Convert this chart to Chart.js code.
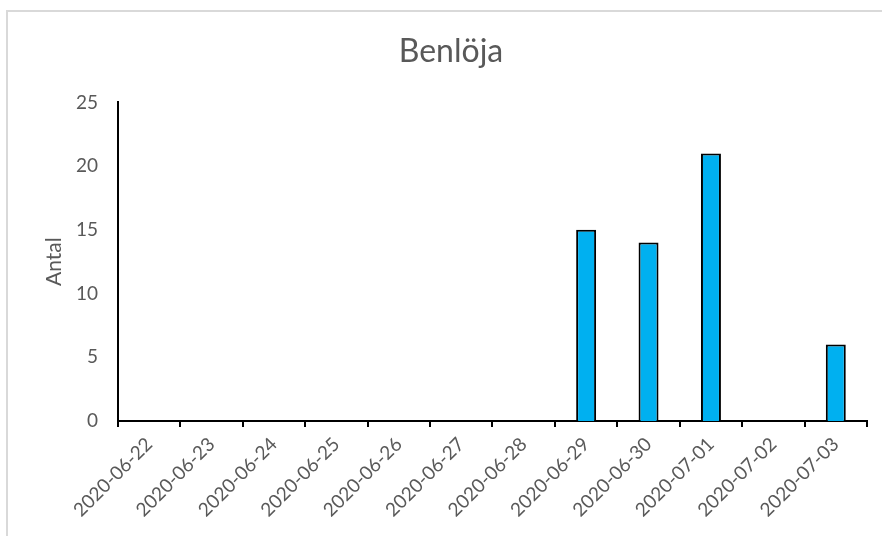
<!DOCTYPE html>
<html>
<head>
<meta charset="utf-8">
<script src="https://cdn.jsdelivr.net/npm/chart.js@4"></script>
<style>
  html, body { margin: 0; padding: 0; background: #fff; overflow: hidden; }
  #frame { position: absolute; left: 6px; top: 10px; width: 900px; height: 600px;
           border-left: 2px solid #d9d9d9; border-top: 2px solid #d9d9d9; }
  #wrap { position: absolute; left: 0; top: 0; width: 902px; height: 536px; }
</style>
</head>
<body>
<div id="frame"></div>
<div id="wrap"><canvas id="chart"></canvas></div>
<script>
const dates = ['2020-06-22', '2020-06-23', '2020-06-24', '2020-06-25', '2020-06-26', '2020-06-27',
  '2020-06-28', '2020-06-29', '2020-06-30', '2020-07-01', '2020-07-02', '2020-07-03'];
const antal = [0, 0, 0, 0, 0, 0, 0, 15, 14, 21, 0, 6];
const yMin = 0;
const yMax = 25;
const yStep = 5;

const grey = '#595959';
const font = 'Lato, "Open Sans", sans-serif';

new Chart(document.getElementById('chart'), {
  type: 'bar',
  data: {
    labels: dates,
    datasets: [{
      label: 'Antal',
      data: antal,
      backgroundColor: '#00b0f0',
      borderColor: '#000',
      borderWidth: 2,
      categoryPercentage: 1,
      barPercentage: 0.32
    }]
  },
  options: {
    responsive: true,
    maintainAspectRatio: false,
    animation: false,
    layout: { padding: 0 },
    plugins: {
      legend: { display: false },
      tooltip: { enabled: false },
      title: {
        display: true,
        text: 'Benlöja',
        color: grey,
        font: { family: font, size: 32, weight: 'normal' },
        padding: { top: 32, bottom: 32 }
      }
    },
    scales: {
      x: {
        offset: true,
        grid: {
          display: true,
          offset: true,
          drawOnChartArea: false,
          drawTicks: true,
          tickLength: 6,
          color: '#000',
          lineWidth: 2
        },
        border: { display: true, color: '#000', width: 2 },
        ticks: {
          color: grey,
          font: { family: font, size: 19 },
          minRotation: 45,
          maxRotation: 45,
          autoSkip: false,
          padding: 6
        },
        afterFit: s => { s.height = 115; }
      },
      y: {
        min: yMin,
        max: yMax,
        grid: { display: false, drawTicks: false },
        border: { display: true, color: '#000', width: 2 },
        ticks: {
          stepSize: yStep,
          color: grey,
          font: { family: font, size: 19 },
          padding: 20
        },
        title: {
          display: true,
          text: 'Antal',
          color: grey,
          font: { family: font, size: 21 },
          padding: { top: 42, bottom: 0 }
        },
        afterFit: s => { s.width = 118; }
      },
      // empty right-hand space so the plot ends where the reference's does
      yRight: {
        position: 'right',
        display: true,
        grid: { display: false, drawTicks: false },
        border: { display: false },
        ticks: { display: false },
        afterFit: s => { s.width = 35; }
      }
    }
  }
});
</script>
</body>
</html>
